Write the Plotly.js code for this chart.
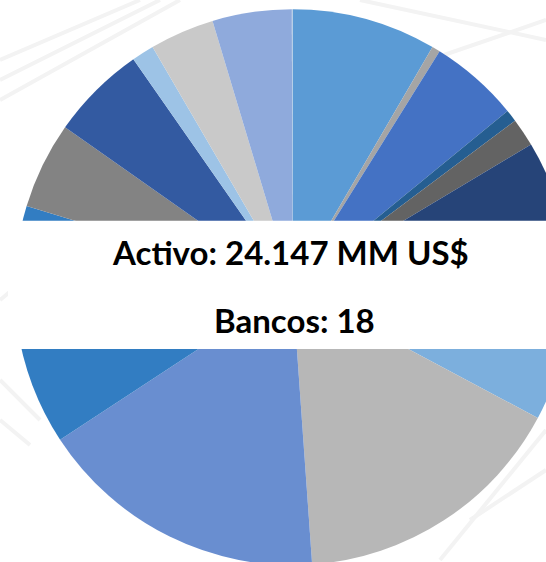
<!DOCTYPE html>
<html>
<head>
<meta charset="utf-8">
<script src="https://cdn.plot.ly/plotly-3.0.1.min.js"></script>
<style>
html,body{margin:0;padding:0;overflow:hidden;background:#ffffff;}
#chart{width:600px;height:600px;}
</style>
</head>
<body>
<div id="chart"></div>
<script>
// Data (MM US$ per bank)
const banks = ["Banco 1","Banco 2","Banco 3","Banco 4","Banco 5","Banco 6","Banco 7","Banco 8","Banco 9",
               "Banco 10","Banco 11","Banco 12","Banco 13","Banco 14","Banco 15","Banco 16","Banco 17","Banco 18"];
const activo = [2029,115,1255,170,396,2039,1918,3884,4078,3374,1214,1341,315,906,1113,4,3,2];
const sliceColors = ["#5B9BD5","#A5A5A5","#4472C4","#255E91","#636363","#264478",
                     "#7CAFDD","#B7B7B7","#698ED0","#327DC2","#838383","#335AA1",
                     "#9DC3E6","#C9C9C9","#8FAADC","#BDD7EE","#DBDBDB","#B4C7E7"];
const line1 = "Activo: 24.147 MM US$";
const line2 = "Bancos: 18";

const W = 600, H = 600;
const cx = 292.5, cy = 287.2, r = 278;
const px = v => v / W;
const py = v => 1 - v / H;

const bgLines = [];
const faint = [[0,60,140,0],[0,80,160,0],[0,100,180,0],[0,300,60,250],[360,0,546,40],[400,70,546,20],
               [470,520,546,470],[440,560,546,430],[0,380,40,420],[0,420,30,445]];
faint.forEach(l => bgLines.push({type:"line", xref:"paper", yref:"paper", layer:"below",
  x0:px(l[0]), y0:py(l[1]), x1:px(l[2]), y1:py(l[3]), line:{color:"#f3f3f3", width:4}}));

const data = [{
  type: "pie",
  labels: banks,
  values: activo,
  sort: false,
  direction: "clockwise",
  rotation: 0,
  textinfo: "none",
  hoverinfo: "label+value",
  marker: {colors: sliceColors, line: {width: 0}},
  showlegend: false,
  domain: {x: [px(cx - r), px(cx + r)], y: [py(cy + r), py(cy - r)]}
}];

const layout = {
  width: W, height: H,
  margin: {l:0, r:0, t:0, b:0},
  paper_bgcolor: "#ffffff",
  plot_bgcolor: "#ffffff",
  showlegend: false,
  shapes: bgLines.concat([{
    type: "rect", xref: "paper", yref: "paper", layer: "above",
    x0: px(8), x1: 1, y0: py(349), y1: py(220.7),
    fillcolor: "#ffffff", line: {width: 0}
  }]),
  annotations: [
    {text: "<b>" + line1 + "</b>", xref: "paper", yref: "paper", x: px(290.5), y: py(252),
     xanchor: "center", yanchor: "middle", showarrow: false,
     font: {family: "Lato, 'Open Sans', sans-serif", size: 33, color: "#000000"}},
    {text: "<b>" + line2 + "</b>", xref: "paper", yref: "paper", x: px(294), y: py(320),
     xanchor: "center", yanchor: "middle", showarrow: false,
     font: {family: "Lato, 'Open Sans', sans-serif", size: 33, color: "#000000"}}
  ]
};

Plotly.newPlot("chart", data, layout, {displayModeBar: false, staticPlot: true});
</script>
</body>
</html>
